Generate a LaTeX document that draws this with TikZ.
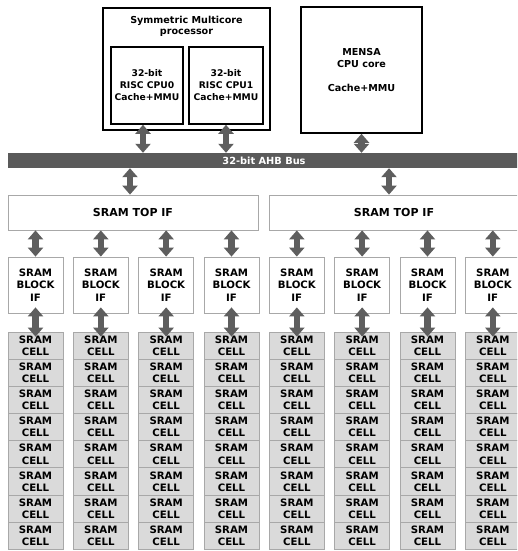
\documentclass[tikz,border=0pt]{standalone}
\usepackage{fontspec}
\setmainfont{DejaVu Sans}
\usetikzlibrary{arrows.meta}
\definecolor{arrowgray}{HTML}{5E5E5E}
\definecolor{busgray}{HTML}{5A5A5A}
\definecolor{cellfill}{HTML}{DADADA}
\definecolor{lightborder}{HTML}{A8A8A8}
\begin{document}
\begin{tikzpicture}[x=1pt,y=-1pt,
  cpubox/.style={draw=black, line width=1.6pt, fill=white, inner sep=0pt, align=center, font=\bfseries\fontsize{9.2}{12}\selectfont},
  srambox/.style={draw=lightborder, line width=0.8pt, fill=white, inner sep=0pt, align=center, font=\bfseries\fontsize{10.2}{12.3}\selectfont},
  cellbox/.style={srambox, fill=cellfill},
  dblarrow/.style={draw=arrowgray, line width=6.5pt, {Triangle[width=15pt,length=9pt]}-{Triangle[width=15pt,length=9pt]}},
]
\useasboundingbox (0,0) rectangle (517,551);
\clip (0,0) rectangle (517,551);
% CPU side
\node[cpubox, minimum width=167pt, minimum height=122pt] (smp) at (186.5,69) {};
\node[font=\bfseries\fontsize{9.6}{11.5}\selectfont, align=center] (smplabel) at (186.5,26.5) {Symmetric Multicore\\processor};
\node[cpubox, minimum width=72pt, minimum height=77pt] (cpu0) at (147,85.5) {32-bit\\RISC CPU0\\Cache+MMU};
\node[cpubox, minimum width=74pt, minimum height=77pt] (cpu1) at (226,85.5) {32-bit\\RISC CPU1\\Cache+MMU};
\node[cpubox, font=\bfseries\fontsize{9.6}{12.2}\selectfont, minimum width=121pt, minimum height=126pt] (mensa) at (361.5,70) {MENSA\\CPU core\\[12.2pt]Cache+MMU};
% bus
\node[fill=busgray, minimum width=530pt, minimum height=15pt, inner sep=0pt, anchor=west] (bus) at (8,160.5) {};
\node[text=white, font=\bfseries\fontsize{9.8}{12}\selectfont] (buslabel) at (264,160.5) {32-bit AHB Bus};
% top IFs
\node[srambox, font=\bfseries\fontsize{11}{12}\selectfont, minimum width=250pt, minimum height=35pt] (topL) at (133,212.5) {SRAM TOP IF};
\node[srambox, font=\bfseries\fontsize{11}{12}\selectfont, minimum width=250pt, minimum height=35pt] (topR) at (394,212.5) {SRAM TOP IF};
% blocks and cells
\foreach \i in {0,...,7} {
  \pgfmathsetmacro\cx{35.5+65.33*\i}
  \node[srambox, minimum width=55pt, minimum height=56pt] (blk\i) at (\cx,285) {SRAM\\BLOCK\\IF};
  \foreach \j in {0,...,7} {
    \pgfmathsetmacro\cy{345.6+27.17*\j}
    \node[cellbox, minimum width=55pt, minimum height=27.17pt] (cell\i-\j) at (\cx,\cy) {SRAM\\CELL};
  }
}
% arrows
\draw[dblarrow] ([xshift=-4pt]cpu0.south) -- ([xshift=-4pt]cpu0.south |- bus.north);
\draw[dblarrow] (cpu1.south) -- (cpu1.south |- bus.north);
\draw[dblarrow] (mensa.south) -- (mensa.south |- bus.north);
\draw[dblarrow] ([xshift=-3pt]topL.north |- bus.south) -- ([xshift=-3pt]topL.north);
\draw[dblarrow] ([xshift=-5pt]topR.north |- bus.south) -- ([xshift=-5pt]topR.north);
\foreach \i in {0,...,7} {
  \draw[dblarrow] (blk\i.north |- topL.south) -- (blk\i.north);
  \draw[dblarrow, shorten <=-6pt, shorten >=-5pt] (blk\i.south) -- (cell\i-0.north);
}
\end{tikzpicture}
\end{document}
